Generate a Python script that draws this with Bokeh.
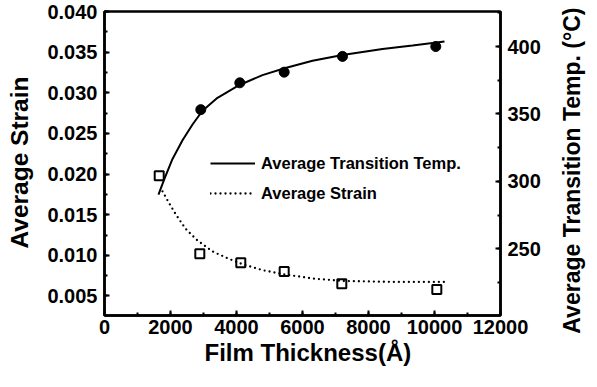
import math
from bokeh.plotting import figure
from bokeh.layouts import row
from bokeh.models import (Range1d, LinearAxis, SingleIntervalTicker, PrintfTickFormatter,
                          Legend, LegendItem, Title)
from bokeh.embed import file_html
from bokeh.resources import INLINE

# ---- data ----
# measured points
thick_temp = [2918, 4100, 5445, 7212, 10039]
temp_vals = [353.2, 373.1, 381.0, 392.7, 400.0]
thick_strain = [1658, 2888, 4130, 5445, 7191, 10070]
strain_vals = [0.0198, 0.0102, 0.0091, 0.0080, 0.0065, 0.0058]
# fitted curves (traced)
fit_temp_x = [1636, 1818, 2061, 2364, 2667, 2970, 3424, 4091, 4788, 5455, 6303, 7212, 8424, 9333, 10303]
fit_temp_y = [290.2, 302.0, 316.6, 330.5, 342.2, 352.4, 362.0, 371.5, 378.8, 383.9, 389.4, 393.8, 398.2, 400.7, 403.7]
fit_strain_x = [1758, 1939, 2152, 2455, 2818, 3273, 3727, 4182, 4788, 5394, 6303, 7212, 8727, 10303]
fit_strain_y = [0.01788, 0.01655, 0.01509, 0.01327, 0.01182, 0.01048, 0.00964, 0.00891,
                0.00818, 0.00770, 0.00715, 0.00685, 0.00673, 0.00673]
legend_labels = ["Average Transition Temp.", "Average Strain"]
x_label = "Film Thickness(Å)"
left_label = "Average Strain"
right_label = "Average Transition Temp. (°C)"

FONT = "Liberation Sans"
H = 371
TOP = 11
BOTTOM = 56

# ---------- main plot ----------
p = figure(width=508, height=H, output_backend="svg", toolbar_location=None,
           x_range=Range1d(0, 12000), y_range=Range1d(0.0026, 0.040),
           min_border_left=68, min_border_right=44, min_border_top=TOP, min_border_bottom=BOTTOM)
p.extra_y_ranges = {"temp": Range1d(200.5, 426)}
p.grid.visible = False
p.background_fill_color = "white"
p.border_fill_color = "white"
p.outline_line_color = "black"
p.outline_line_width = 2.5

def style_axis(ax):
    ax.axis_line_width = 2.5
    ax.axis_line_color = "black"
    ax.major_tick_in = 5
    ax.major_tick_out = 0
    ax.minor_tick_in = 3
    ax.minor_tick_out = 0
    ax.major_tick_line_width = 2
    ax.minor_tick_line_width = 2
    ax.major_label_text_font = FONT
    ax.major_label_text_font_style = "bold"
    ax.major_label_text_font_size = "20px"
    ax.major_label_text_color = "black"
    ax.major_label_standoff = 7

xa = p.xaxis[0]
xa.ticker = SingleIntervalTicker(interval=2000, num_minor_ticks=2)
xa.formatter = PrintfTickFormatter(format="%d")
style_axis(xa)
xa.major_label_standoff = 4

ya = p.yaxis[0]
ya.ticker = SingleIntervalTicker(interval=0.005, num_minor_ticks=2)
ya.formatter = PrintfTickFormatter(format="%.3f")
style_axis(ya)

ra = LinearAxis(y_range_name="temp")
ra.ticker = SingleIntervalTicker(interval=50, num_minor_ticks=2)
ra.formatter = PrintfTickFormatter(format="%d")
style_axis(ra)
p.add_layout(ra, "right")

p.add_layout(Title(text=x_label, align="left", offset=100, standoff=0,
                   text_font=FONT, text_font_style="bold", text_font_size="24px",
                   text_color="black"), "below")

solid = p.line(fit_temp_x, fit_temp_y, y_range_name="temp", line_color="black", line_width=2)
dotted = p.line(fit_strain_x, fit_strain_y, line_color="black", line_width=2.3,
                line_dash="0 5", line_cap="round")
p.scatter(thick_temp, temp_vals, y_range_name="temp", marker="circle", size=10,
          fill_color="black", line_color="black")
p.scatter(thick_strain, strain_vals, marker="square", size=9, fill_alpha=0,
          line_color="black", line_width=2)

legend = Legend(items=[LegendItem(label=legend_labels[0], renderers=[solid]),
                       LegendItem(label=legend_labels[1], renderers=[dotted])],
                location=(106, 112), padding=0, margin=0, spacing=10,
                glyph_width=45, glyph_height=20, label_height=20, label_standoff=6,
                border_line_alpha=0, background_fill_alpha=0,
                label_text_font=FONT, label_text_font_style="bold",
                label_text_font_size="16.5px", label_text_color="black")
p.add_layout(legend, "center")

# ---------- side strips carrying the rotated axis titles ----------
def label_strip(text, size, width, border_left, offset):
    s = figure(width=width, height=H, output_backend="svg", toolbar_location=None,
               x_range=Range1d(0, 1), y_range=Range1d(0, 1),
               x_axis_location=None, y_axis_location=None,
               min_border_left=border_left, min_border_right=0,
               min_border_top=TOP, min_border_bottom=BOTTOM)
    s.grid.visible = False
    s.outline_line_color = None
    s.background_fill_color = "white"
    s.border_fill_color = "white"
    s.add_layout(Title(text=text, align="right", offset=offset, standoff=0,
                       text_font=FONT, text_font_style="bold", text_font_size=size,
                       text_color="black"), "left")
    return s

pL = label_strip(left_label, "24.5px", 36, 32, 65)
pR = label_strip(right_label, "23px", 44, 40, -4)

layout = row(pL, p, pR, spacing=0)
open("out.html", "w").write(file_html(layout, INLINE))
